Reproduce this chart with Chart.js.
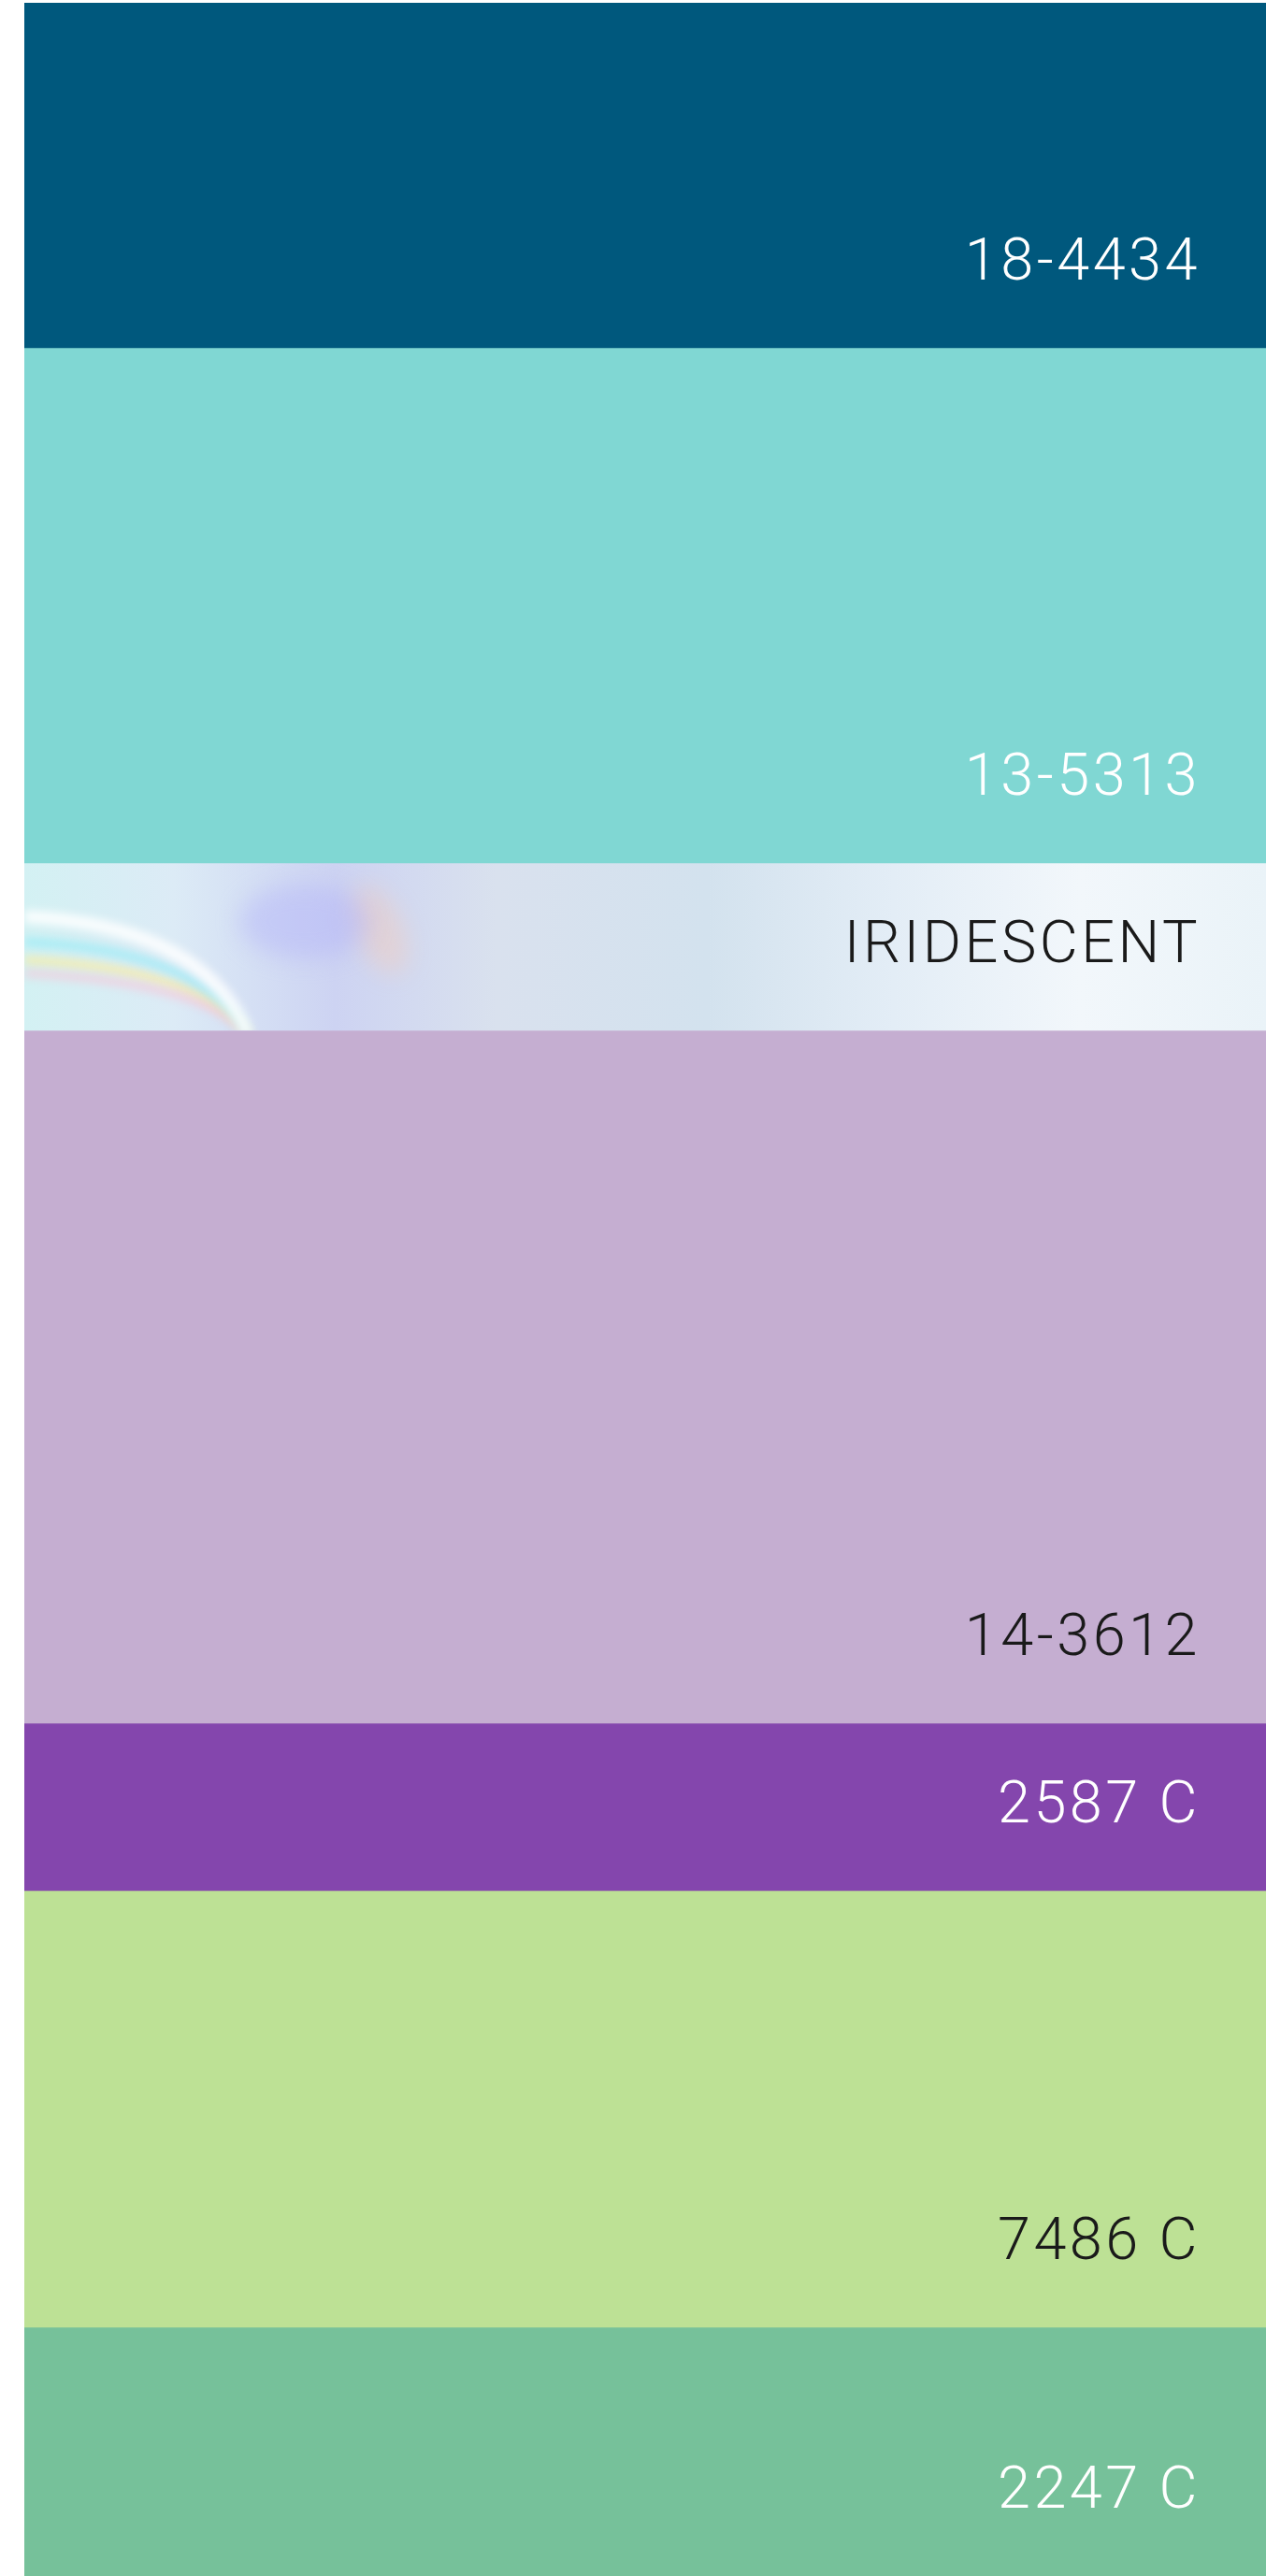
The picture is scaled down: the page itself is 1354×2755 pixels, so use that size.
<!DOCTYPE html>
<html lang="en">
<head>
  <meta charset="UTF-8">
  <title>Colour palette</title>
  <script src="https://cdn.jsdelivr.net/npm/chart.js"></script>
  <style>
    html, body { margin: 0; padding: 0; background: #ffffff; }
    canvas { display: block; }
  </style>
</head>
<body>
  <canvas id="palette" width="1354" height="2755"></canvas>

  <script>
    // swatch names, top to bottom
    const swatchNames = ['18-4434', '13-5313', 'IRIDESCENT', '14-3612', '2587 C', '7486 C', '2247 C'];
    // height of each band (share of the strip)
    const swatchSizes = [369, 551, 179, 741, 179, 467, 266];
    const swatchColors = ['#00587d', '#80d7d3', 'iridescent', '#c5aed1', '#8446ad', '#bde195', '#76c19a'];
    const labelColors = ['#ffffff', '#ffffff', '#1a1a1a', '#1a1a1a', '#ffffff', '#1a1a1a', '#ffffff'];

    function iridescentFill(chart) {
      const area = chart.chartArea;
      if (!area) return '#dfe9f2';
      const g = chart.ctx.createLinearGradient(area.left, 0, area.right, 0);
      g.addColorStop(0.00, '#d3f1f3');
      g.addColorStop(0.12, '#dcebf6');
      g.addColorStop(0.25, '#cdd3f2');
      g.addColorStop(0.38, '#d9e1ee');
      g.addColorStop(0.55, '#d3e2ee');
      g.addColorStop(0.70, '#e3edf6');
      g.addColorStop(0.85, '#f2f7fb');
      g.addColorStop(1.00, '#eaf3f8');
      return g;
    }

    // a few soft rainbow streaks on the iridescent band
    const sheenPlugin = {
      id: 'sheen',
      afterDatasetDraw(chart, args) {
        if (swatchColors[args.index] !== 'iridescent') return;
        const bar = chart.getDatasetMeta(args.index).data[0];
        const top = Math.min(bar.y, bar.base), bottom = Math.max(bar.y, bar.base);
        const left = chart.chartArea.left, right = chart.chartArea.right;
        const h = bottom - top;
        const ctx = chart.ctx;
        ctx.save();
        ctx.beginPath();
        ctx.rect(left, top, right - left, h);
        ctx.clip();
        ctx.filter = 'blur(5px)';
        const streaks = [
          { c: 'rgba(255,235,150,0.75)', dy: 0.58, w: 8 },
          { c: 'rgba(255,190,210,0.65)', dy: 0.66, w: 7 },
          { c: 'rgba(150,235,245,0.75)', dy: 0.47, w: 9 },
          { c: 'rgba(255,255,255,0.85)', dy: 0.32, w: 14 }
        ];
        streaks.forEach(s => {
          ctx.beginPath();
          ctx.strokeStyle = s.c;
          ctx.lineWidth = s.w;
          ctx.moveTo(left, top + h * s.dy);
          ctx.quadraticCurveTo(left + 190, top + h * (s.dy + 0.05), left + 240, bottom + 5);
          ctx.stroke();
        });
        ctx.filter = 'blur(12px)';
        ctx.fillStyle = 'rgba(255,200,170,0.35)';
        ctx.beginPath();
        ctx.ellipse(left + 380, top + h * 0.4, 25, 50, -0.4, 0, Math.PI * 2);
        ctx.fill();
        ctx.fillStyle = 'rgba(175,175,250,0.4)';
        ctx.beginPath();
        ctx.ellipse(left + 300, top + h * 0.35, 70, 40, 0, 0, Math.PI * 2);
        ctx.fill();
        ctx.restore();
      }
    };

    // swatch codes written in the bottom-right of each band
    const namePlugin = {
      id: 'names',
      afterDatasetsDraw(chart) {
        const ctx = chart.ctx;
        ctx.save();
        ctx.font = '300 63px Roboto, "Liberation Sans", sans-serif';
        ctx.textAlign = 'right';
        ctx.textBaseline = 'alphabetic';
        if ('letterSpacing' in ctx) ctx.letterSpacing = '3.5px';
        swatchNames.forEach((name, i) => {
          const bar = chart.getDatasetMeta(i).data[0];
          const bottom = Math.max(bar.y, bar.base);
          ctx.fillStyle = labelColors[i];
          ctx.fillText(name, chart.chartArea.right - 70, bottom - 73);
        });
        ctx.restore();
      }
    };

    const datasets = swatchNames.map((name, i) => ({
      label: name,
      data: [swatchSizes[i]],
      backgroundColor: swatchColors[i] === 'iridescent'
        ? (c) => iridescentFill(c.chart)
        : swatchColors[i],
      borderWidth: 0,
      barPercentage: 1,
      categoryPercentage: 1
    }));

    new Chart(document.getElementById('palette'), {
      type: 'bar',
      data: { labels: ['palette'], datasets: datasets },
      options: {
        responsive: false,
        animation: false,
        layout: { padding: { left: 26, top: 3, right: 0, bottom: 0 } },
        scales: {
          x: { stacked: true, display: false },
          y: {
            stacked: true,
            display: false,
            reverse: true,
            min: 0,
            max: swatchSizes.reduce((a, b) => a + b, 0)
          }
        },
        plugins: {
          legend: { display: false },
          tooltip: { enabled: false }
        }
      },
      plugins: [sheenPlugin, namePlugin]
    });
  </script>
</body>
</html>
